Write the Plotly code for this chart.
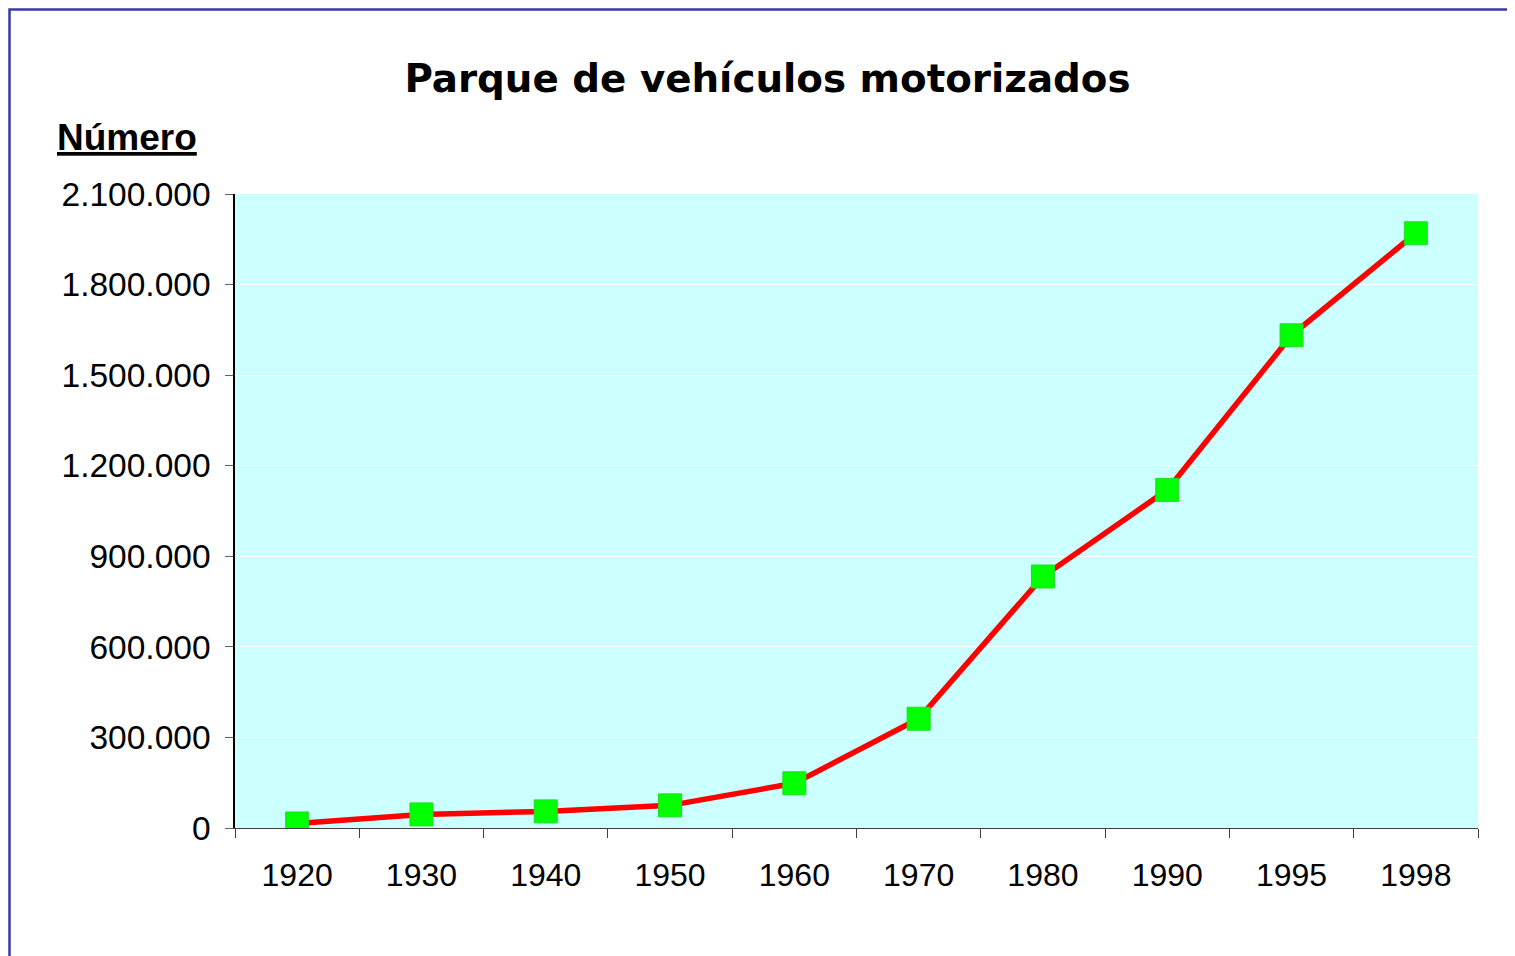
import plotly.graph_objects as go

years = ["1920", "1930", "1940", "1950", "1960", "1970", "1980", "1990", "1995", "1998"]
vehicles = [15000, 45000, 55000, 75000, 148000, 362000, 833000, 1120000, 1632000, 1970000]
y_ticks = [0, 300000, 600000, 900000, 1200000, 1500000, 1800000, 2100000]
y_tick_labels = ["0", "300.000", "600.000", "900.000", "1.200.000", "1.500.000", "1.800.000", "2.100.000"]

# the page body has an 8px margin, so figure coords = screen coords - 8
OFF = 8
W, H = 1515 - OFF, 956 - OFF
L, T = 235 - OFF, 194 - OFF
R = W - (1478 - OFF)
B = H - (828 - OFF)
pw, ph = W - L - R, H - T - B

def px_x(x):
    return (x - OFF - L) / pw

def px_y(y):
    return 1 + (T - (y - OFF)) / ph

FONT = "Liberation Sans, Arial, sans-serif"

fig = go.Figure()
fig.add_trace(go.Scatter(
    x=years, y=vehicles, mode="lines+markers",
    line=dict(color="#FF0000", width=5.5),
    marker=dict(symbol="square", size=23, color="#00FF00",
                line=dict(color="#22DD22", width=1)),
    showlegend=False, hoverinfo="x+y",
))

fig.update_layout(
    width=W, height=H,
    margin=dict(l=L, r=R, t=T, b=B),
    paper_bgcolor="white",
    plot_bgcolor="#CCFFFF",
    title=dict(text="<b>Parque de vehículos motorizados</b>",
               font=dict(family="DejaVu Sans", size=38.8, color="black"),
               xref="container", x=(767.5 - OFF) / W, xanchor="center",
               yref="container", y=1 - (78 - OFF) / H, yanchor="middle"),
    font=dict(family=FONT, color="black"),
    xaxis=dict(type="category", range=[-0.5, 9.5], tickson="boundaries",
               ticks="outside", ticklen=9, tickcolor="#404040", tickwidth=1,
               showline=True, linecolor="#404040", linewidth=1,
               showgrid=False, zeroline=False,
               tickfont=dict(family=FONT, size=32, color="black"),
               ticklabelstandoff=19),
    yaxis=dict(range=[0, 2100000], tickvals=y_ticks, ticktext=y_tick_labels,
               ticks="outside", ticklen=8, tickcolor="#606060", tickwidth=1,
               showline=True, linecolor="black", linewidth=1.5,
               showgrid=True, gridcolor="white", gridwidth=1,
               zeroline=False,
               tickfont=dict(family=FONT, size=33.5, color="black"),
               ticklabelstandoff=8),
    annotations=[dict(text="<b><u>Número</u></b>", xref="paper", yref="paper",
                      x=px_x(55), y=px_y(137), xanchor="left", yanchor="middle",
                      showarrow=False,
                      font=dict(family=FONT, size=37, color="black"))],
    shapes=[dict(type="rect", xref="paper", yref="paper",
                 x0=px_x(9.5), x1=px_x(1700), y0=px_y(1200), y1=px_y(9.5),
                 line=dict(color="#3A3AA6", width=2.5), layer="below")],
)

fig.write_html("out.html")
